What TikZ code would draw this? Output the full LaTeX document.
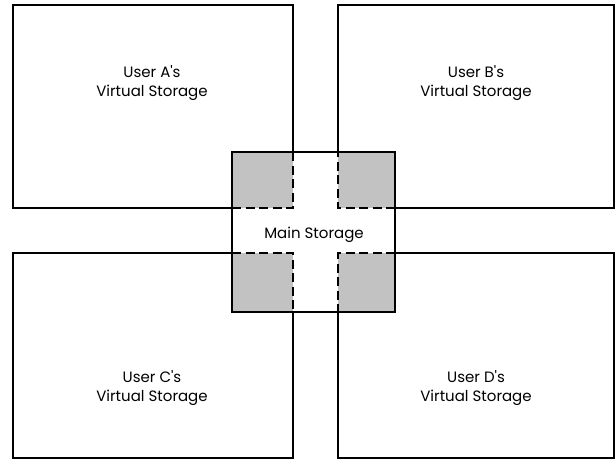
\documentclass[tikz,border=0pt]{standalone}
\usepackage{fontspec}
\setmainfont{Poppins}[Ligatures=TeXOff]
\begin{document}
\begin{tikzpicture}[x=1pt,y=1pt,
  userbox/.style={draw=black, line width=1.5pt},
  shade/.style={fill=black!24},
  dashline/.style={draw=black, line width=2pt, dash pattern=on 9pt off 4.5pt},
  mainbox/.style={draw=black, line width=2.8pt},
  lbl/.style={font=\fontsize{15}{19.5}\selectfont, align=center, text=black, inner sep=0pt}
]
\useasboundingbox (0,0) rectangle (615,459);
% user boxes
\draw[userbox] (13,251) rectangle (293,454);
\draw[userbox] (338,251) rectangle (614,454);
\draw[userbox] (13,1) rectangle (293,206);
\draw[userbox] (338,1) rectangle (614,206);
% main storage
\fill[white] (232,147) rectangle (395,307);
\fill[shade] (232,251) rectangle (293,307);
\fill[shade] (338,251) rectangle (395,307);
\fill[shade] (232,147) rectangle (293,206);
\fill[shade] (338,147) rectangle (395,206);
\draw[dashline] (232,251) -- (293,251) -- (293,307);
\draw[dashline] (395,251) -- (338,251) -- (338,307);
\draw[dashline] (232,206) -- (293,206) -- (293,147);
\draw[dashline] (395,206) -- (338,206) -- (338,147);
\node[mainbox, minimum width=163pt, minimum height=160pt, inner sep=0pt] (main) at (313.5,227) {};
\node[lbl] (mainlbl) at (314,224) {Main Storage};
% labels
\node[lbl] (a) at (152,376) {User A's\\Virtual Storage};
\node[lbl] (b) at (476,376) {User B's\\Virtual Storage};
\node[lbl] (c) at (152,71) {User C's\\Virtual Storage};
\node[lbl] (d) at (476,71) {User D's\\Virtual Storage};
\end{tikzpicture}
\end{document}
